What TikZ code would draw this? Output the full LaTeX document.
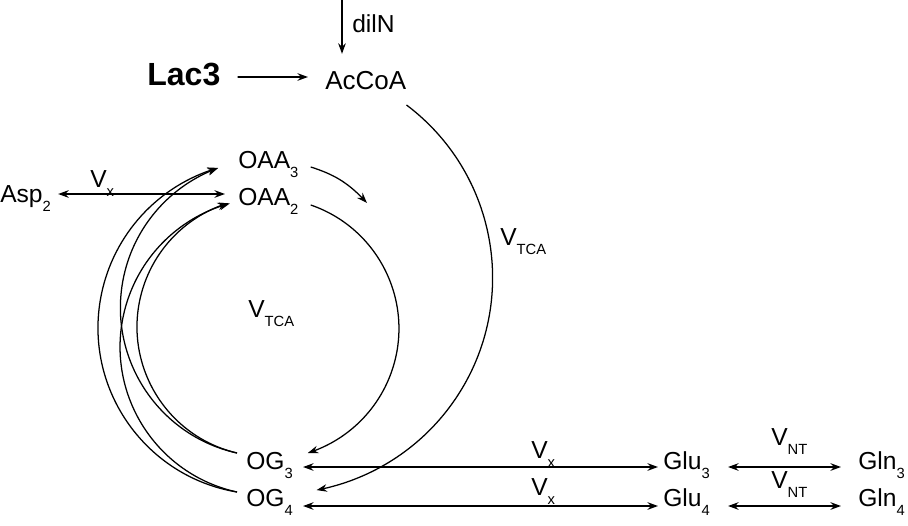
\documentclass[tikz,border=0pt]{standalone}
\usepackage{fontspec}
\setmainfont{Liberation Sans}
\usepackage{tikz}
\usetikzlibrary{arrows.meta,bending}

\newcommand{\labsize}{\fontsize{17.5pt}{21pt}\selectfont}
\newcommand{\acsize}{\fontsize{18.5pt}{22pt}\selectfont}
\newcommand{\lacsize}{\fontsize{22.8pt}{26pt}\selectfont\bfseries}
\newcommand{\lowsub}[1]{\raisebox{-7pt}{\fontsize{10.5pt}{12pt}\selectfont #1}}

\tikzset{
  >={Stealth[length=7.5pt,width=5.4pt,inset=2.5pt]},
  metab/.style={inner sep=0pt, anchor=base west, font=\labsize},
  flux/.style={->, line width=1.1pt},
  biflux/.style={<->, line width=1.1pt},
  arcflux/.style={->, line width=0.9pt}
}

\begin{document}
\begin{tikzpicture}
  \useasboundingbox (0,0) rectangle (22.7,13.125);

  % Metabolites
  \node[metab] (diln) at (8.8,12.3) {dilN};
  \node[metab, font=\lacsize] (lac) at (3.675,10.975) {Lac3};
  \node[metab, font=\acsize] (accoa) at (8.125,10.875) {AcCoA};
  \node[metab] (oaa3) at (5.95,8.925) {OAA\lowsub{3}};
  \node[metab] (oaa2) at (5.95,8.0) {OAA\lowsub{2}};
  \node[metab] (asp) at (0,8.075) {Asp\lowsub{2}};
  \node[metab] (og3) at (6.15,1.4) {OG\lowsub{3}};
  \node[metab] (og4) at (6.15,0.475) {OG\lowsub{4}};
  \node[metab] (glu3) at (16.575,1.4) {Glu\lowsub{3}};
  \node[metab] (glu4) at (16.575,0.475) {Glu\lowsub{4}};
  \node[metab] (gln3) at (21.45,1.4) {Gln\lowsub{3}};
  \node[metab] (gln4) at (21.45,0.475) {Gln\lowsub{4}};

  % Rates
  \node[metab] (vxasp) at (2.25,8.45) {V\lowsub{x}};
  \node[metab] (vtcain) at (6.2,5.2) {V\lowsub{TCA}};
  \node[metab] (vtcaout) at (12.5,7.0) {V\lowsub{TCA}};
  \node[metab] (vx3) at (13.275,1.675) {V\lowsub{x}};
  \node[metab] (vx4) at (13.275,0.75) {V\lowsub{x}};
  \node[metab] (vnt3) at (19.275,2.0) {V\lowsub{NT}};
  \node[metab] (vnt4) at (19.275,0.925) {V\lowsub{NT}};

  % Inputs to AcCoA
  \coordinate (dtop) at (8.55,13.125);
  \draw[flux, shorten >=12.6pt] (dtop) -- (dtop |- accoa.north);
  \draw[flux] ([xshift=0.425cm,yshift=0.225cm]lac.base east) -- ([xshift=-0.425cm,yshift=0.325cm]accoa.base west);

  % Asp exchange
  \draw[biflux] ([xshift=0.175cm,yshift=0.2cm]asp.base east) -- ([xshift=-0.325cm,yshift=0.275cm]oaa2.base west);

  % OG back to OAA
  \draw[arcflux] ([xshift=-0.225cm,yshift=0.35cm]og4.base west) arc[start angle=260.5, end angle=106.2, radius=4.1625cm];
  \draw[arcflux] ([xshift=-0.225cm,yshift=0.35cm]og4.base west) arc[start angle=257.7, end angle=105.1, radius=3.715cm];
  \draw[arcflux] ([xshift=-0.225cm,yshift=0.4cm]og3.base west) arc[start angle=257.5, end angle=110.1, radius=3.72cm];
  \draw[arcflux] ([xshift=-0.225cm,yshift=0.4cm]og3.base west) arc[start angle=256.8, end angle=107.3, radius=3.24cm];

  % TCA cycle
  \coordinate (cyctip) at (9.175,8.05);
  \draw[arcflux] ([xshift=0.3cm,yshift=0.025cm]oaa3.base east) to[bend left=15] (cyctip);
  \draw[arcflux] ([xshift=0.3cm]oaa2.base east) arc[start angle=71.05, end angle=-72.4, radius=3.265cm];
  \draw[arcflux] ([yshift=-0.375cm]accoa.base east) arc[start angle=53, end angle=-79.3, radius=5.405cm];

  % OG - Glu - Gln exchange
  \draw[biflux] ([xshift=0.25cm,yshift=0.05cm]og3.base east) -- ([xshift=-0.125cm,yshift=0.05cm]glu3.base west);
  \draw[biflux] ([xshift=0.25cm]og4.base east) -- ([xshift=-0.125cm]glu4.base west);
  \draw[biflux] ([xshift=0.45cm,yshift=0.05cm]glu3.base east) -- ([xshift=-0.425cm,yshift=0.05cm]gln3.base west);
  \draw[biflux] ([xshift=0.45cm]glu4.base east) -- ([xshift=-0.425cm]gln4.base west);
\end{tikzpicture}
\end{document}
